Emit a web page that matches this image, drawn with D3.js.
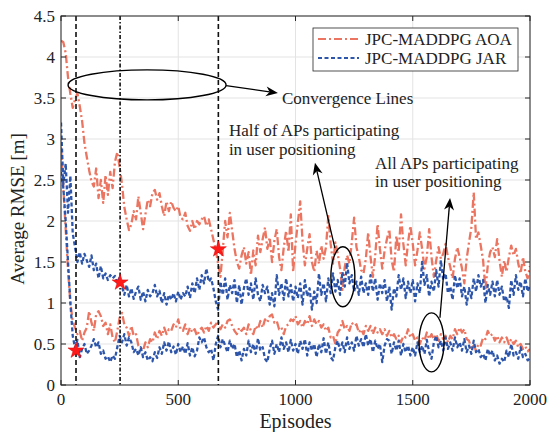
<!DOCTYPE html>
<html><head><meta charset="utf-8">
<script src="https://cdn.jsdelivr.net/npm/d3@7"></script>
<style>body{margin:0;background:#fff}svg{display:block}svg text{font-family:"Liberation Serif","Times New Roman",Times,serif !important;fill:#222}</style>
</head><body><svg id="c" width="549" height="432" font-family="Liberation Serif, Times New Roman, Times, serif"></svg>
<script>
// Episodes sampled every 10 episodes: 0,10,...,2000
const episodeStep = 10;
const xTicks = [0, 500, 1000, 1500, 2000];
const yTicks = [0, 0.5, 1, 1.5, 2, 2.5, 3, 3.5, 4, 4.5];
const seriesNames = ["JPC-MADDPG AOA", "JPC-MADDPG JAR"];
const convergenceEpisodes = [64, 252, 671];
const starValues = [0.42, 1.25, 1.655];

const aoaHalf = [
4.20,4.18,4.05,3.75,3.55,3.38,3.48,3.56,3.40,3.22,
2.95,2.78,2.62,2.48,2.42,2.64,2.28,2.50,2.22,2.56,
2.32,2.60,2.40,2.72,2.84,2.66,2.45,2.17,2.02,1.89,
1.96,2.12,2.02,2.30,2.10,1.90,2.08,2.26,2.18,2.34,
2.38,2.26,2.34,2.18,2.06,2.24,2.12,2.24,2.16,2.12,
2.18,2.04,2.02,2.10,1.94,1.88,2.00,1.90,2.00,1.96,
2.02,2.06,1.94,2.02,1.90,1.77,1.65,1.48,1.32,1.65,
2.00,1.80,2.10,1.88,1.66,1.50,1.42,1.58,1.68,1.48,
1.62,1.34,1.64,1.46,1.82,1.62,1.78,1.92,1.66,1.80,
1.50,1.76,1.90,1.56,1.40,1.68,1.88,1.62,2.08,1.38,
1.72,1.98,2.24,1.76,1.46,1.66,1.84,1.50,1.38,1.64,
1.48,1.70,1.54,1.68,2.06,1.72,1.48,1.74,1.60,1.42,
1.16,1.44,1.58,1.48,1.74,2.04,1.68,1.56,1.40,1.36,
1.54,1.86,1.56,1.32,1.58,1.96,1.66,1.42,1.64,1.78,
1.90,1.52,1.38,1.82,1.62,2.08,1.72,1.46,1.74,1.94,
1.72,1.46,1.64,1.86,1.66,1.42,1.56,1.90,1.56,1.32,
1.52,1.68,1.54,1.60,1.72,1.56,1.44,1.30,1.54,1.68,
1.56,1.42,1.24,1.54,1.74,1.92,2.35,1.78,1.86,1.70,
1.52,1.16,1.46,1.62,1.68,1.56,1.78,1.52,1.32,1.52,
1.38,1.56,1.70,1.58,1.66,1.48,1.36,1.56,1.38,1.30,
1.45];

const aoaFull = [
2.90,2.40,1.90,1.40,1.00,0.78,0.70,0.62,0.66,0.54,
0.64,0.70,0.90,0.76,0.66,0.86,0.90,0.84,0.72,0.76,
0.62,0.74,0.58,0.52,0.66,0.82,0.88,0.74,0.70,0.60,
0.72,0.60,0.62,0.48,0.44,0.42,0.52,0.46,0.56,0.52,
0.64,0.56,0.66,0.60,0.70,0.62,0.68,0.66,0.74,0.70,
0.80,0.68,0.66,0.74,0.62,0.70,0.64,0.68,0.60,0.66,
0.70,0.64,0.72,0.66,0.76,0.70,0.74,0.78,0.68,0.74,
0.70,0.78,0.80,0.72,0.66,0.62,0.70,0.66,0.70,0.62,
0.74,0.66,0.62,0.72,0.68,0.78,0.70,0.80,0.76,0.84,
0.86,0.76,0.78,0.68,0.70,0.62,0.72,0.74,0.80,0.78,
0.84,0.74,0.78,0.70,0.78,0.74,0.84,0.72,0.80,0.74,
0.78,0.70,0.74,0.66,0.70,0.58,0.60,0.50,0.64,0.68,
0.78,0.68,0.72,0.66,0.76,0.72,0.74,0.64,0.68,0.62,
0.72,0.66,0.72,0.62,0.70,0.64,0.68,0.62,0.68,0.60,
0.66,0.58,0.62,0.56,0.60,0.52,0.60,0.58,0.68,0.58,
0.62,0.54,0.58,0.50,0.58,0.54,0.64,0.56,0.62,0.56,
0.62,0.54,0.62,0.56,0.60,0.52,0.60,0.56,0.68,0.62,
0.70,0.64,0.68,0.56,0.54,0.44,0.48,0.42,0.50,0.48,
0.58,0.56,0.66,0.60,0.62,0.54,0.60,0.52,0.58,0.52,
0.58,0.50,0.56,0.50,0.54,0.46,0.50,0.44,0.47,0.41,
0.44];

const jarHalf = [
3.20,2.45,2.70,2.10,2.55,1.85,1.68,1.50,1.62,1.48,
1.60,1.52,1.44,1.58,1.40,1.48,1.30,1.45,1.30,1.36,
1.28,1.34,1.30,1.33,1.25,1.31,1.20,1.10,1.22,1.08,
1.18,1.05,1.14,1.20,1.04,1.14,1.02,1.16,1.08,1.12,
1.22,1.08,1.15,1.00,1.12,0.98,1.10,1.04,1.12,1.02,
1.14,1.04,1.12,1.08,1.20,1.06,1.24,1.12,1.30,1.16,
1.34,1.24,1.42,1.26,1.30,1.18,1.02,0.92,1.26,1.10,
1.30,1.04,1.22,1.12,1.28,1.00,1.22,0.98,1.18,1.30,
1.10,1.24,1.04,1.30,1.10,1.02,1.22,1.12,1.20,0.98,
1.12,0.96,1.34,1.10,1.24,1.04,1.30,1.08,1.22,1.02,
1.20,1.06,1.24,0.98,1.28,1.08,1.18,0.92,1.14,1.00,
1.36,1.10,1.24,1.02,1.30,1.12,1.36,1.14,1.28,1.10,
1.38,1.20,1.49,1.24,1.34,1.14,1.26,1.10,1.32,1.12,
1.24,1.10,1.34,1.14,1.30,1.04,1.24,1.12,1.28,1.02,
1.20,0.92,1.18,1.08,1.34,1.16,1.30,1.06,1.26,1.12,
1.28,1.02,1.24,1.12,1.50,1.22,1.34,1.08,1.26,1.14,
1.40,1.20,1.52,1.28,1.36,1.12,1.20,1.04,1.34,1.18,
1.30,1.08,1.20,0.98,1.18,1.06,1.30,1.14,1.34,1.20,
1.28,1.00,1.22,1.10,1.26,1.08,1.28,1.10,1.20,1.02,
1.08,0.94,1.28,1.10,1.34,1.16,1.26,1.08,1.30,1.14,
1.22];

const jarFull = [
2.60,2.40,2.00,1.50,1.00,0.60,0.45,0.55,0.34,0.44,
0.50,0.38,0.42,0.48,0.56,0.46,0.52,0.38,0.42,0.32,
0.35,0.28,0.36,0.32,0.46,0.60,0.52,0.62,0.48,0.58,
0.52,0.40,0.44,0.36,0.46,0.34,0.40,0.30,0.34,0.29,
0.40,0.33,0.46,0.38,0.52,0.42,0.53,0.40,0.47,0.37,
0.50,0.40,0.47,0.38,0.51,0.36,0.46,0.35,0.42,0.58,
0.52,0.58,0.46,0.40,0.44,0.30,0.50,0.60,0.46,0.56,
0.48,0.40,0.54,0.44,0.50,0.34,0.42,0.30,0.44,0.36,
0.54,0.40,0.50,0.38,0.57,0.42,0.46,0.32,0.28,0.44,
0.54,0.38,0.50,0.40,0.58,0.44,0.52,0.40,0.55,0.42,
0.50,0.38,0.54,0.44,0.56,0.36,0.52,0.42,0.50,0.34,
0.50,0.40,0.57,0.38,0.52,0.34,0.30,0.46,0.54,0.42,
0.52,0.40,0.58,0.44,0.52,0.42,0.60,0.48,0.56,0.46,
0.62,0.48,0.56,0.40,0.54,0.44,0.50,0.28,0.48,0.56,
0.54,0.38,0.52,0.42,0.54,0.36,0.50,0.40,0.48,0.36,
0.46,0.36,0.52,0.40,0.48,0.38,0.55,0.40,0.32,0.52,
0.60,0.46,0.54,0.42,0.58,0.44,0.52,0.42,0.58,0.46,
0.52,0.42,0.56,0.40,0.48,0.38,0.54,0.40,0.44,0.34,
0.38,0.30,0.44,0.36,0.42,0.30,0.36,0.26,0.32,0.28,
0.42,0.34,0.50,0.36,0.40,0.32,0.46,0.34,0.38,0.30,
0.33];

const red = "#eb7560", blue = "#2d56ab";
const redDash = "8,3,2,3", blueDash = "4,2.5";
const svg = d3.select("#c");
const L = 61, R = 530, T = 16, B = 385;
const x = d3.scaleLinear().domain([0, 2000]).range([L, R]);
const y = d3.scaleLinear().domain([0, 4.5]).range([B, T]);

// grid
svg.append("g").selectAll("line").data(xTicks).join("line")
  .attr("x1", d => x(d)).attr("x2", d => x(d)).attr("y1", T).attr("y2", B)
  .attr("stroke", "#e3e3e3").attr("stroke-width", 1);
svg.append("g").selectAll("line").data(yTicks).join("line")
  .attr("y1", d => y(d)).attr("y2", d => y(d)).attr("x1", L).attr("x2", R)
  .attr("stroke", "#e3e3e3").attr("stroke-width", 1);

svg.append("defs").append("clipPath").attr("id", "clip")
  .append("rect").attr("x", L).attr("y", T).attr("width", R - L).attr("height", B - T);

const line = d3.line().x((d, i) => x(i * episodeStep)).y(d => y(d));
const plot = svg.append("g").attr("clip-path", "url(#clip)");
const styles = [
  {data: aoaHalf, color: red, dash: redDash},
  {data: aoaFull, color: red, dash: redDash},
  {data: jarHalf, color: blue, dash: blueDash},
  {data: jarFull, color: blue, dash: blueDash}
];
styles.forEach(s => {
  plot.append("path").attr("d", line(s.data)).attr("fill", "none")
    .attr("stroke", s.color).attr("stroke-width", 2.3).attr("stroke-dasharray", s.dash)
    .attr("stroke-linejoin", "round");
});

// convergence lines
const convDash = ["5,3", "4,2,1.5,2", "5,3"];
convergenceEpisodes.forEach((e, i) => {
  svg.append("line").attr("x1", x(e)).attr("x2", x(e)).attr("y1", T).attr("y2", B)
    .attr("stroke", "#111").attr("stroke-width", 1.6).attr("stroke-dasharray", convDash[i]);
});
// stars
convergenceEpisodes.forEach((e, i) => {
  svg.append("path").attr("d", d3.symbol(d3.symbolStar, 80)())
    .attr("transform", `translate(${x(e)},${y(starValues[i])})`)
    .attr("fill", "#ff1a1a").attr("stroke", "#e00000").attr("stroke-width", 0.5);
});

// axes box & ticks
svg.append("rect").attr("x", L).attr("y", T).attr("width", R - L).attr("height", B - T)
  .attr("fill", "none").attr("stroke", "#262626").attr("stroke-width", 1);
const tk = 5;
xTicks.forEach(d => {
  svg.append("line").attr("x1", x(d)).attr("x2", x(d)).attr("y1", B).attr("y2", B - tk).attr("stroke", "#262626");
  svg.append("line").attr("x1", x(d)).attr("x2", x(d)).attr("y1", T).attr("y2", T + tk).attr("stroke", "#262626");
  svg.append("text").attr("x", x(d)).attr("y", B + 20).attr("text-anchor", "middle")
    .attr("font-size", 17).text(d);
});
yTicks.forEach(d => {
  svg.append("line").attr("y1", y(d)).attr("y2", y(d)).attr("x1", L).attr("x2", L + tk).attr("stroke", "#262626");
  svg.append("line").attr("y1", y(d)).attr("y2", y(d)).attr("x1", R).attr("x2", R - tk).attr("stroke", "#262626");
  svg.append("text").attr("x", L - 6).attr("y", y(d) + 5.5).attr("text-anchor", "end")
    .attr("font-size", 17).text(d);
});
svg.append("text").attr("x", x(1000)).attr("y", 428).attr("text-anchor", "middle")
  .attr("font-size", 20).text("Episodes");
svg.append("text").attr("transform", `translate(24,209) rotate(-90)`)
  .attr("text-anchor", "middle").attr("font-size", 19).text("Average RMSE [m]");

// annotations
function arrow(x1, y1, x2, y2) {
  const a = Math.atan2(y2 - y1, x2 - x1), len = 12, w = 5;
  const bx = x2 - len * Math.cos(a), by = y2 - len * Math.sin(a);
  const nx = -Math.sin(a), ny = Math.cos(a);
  const mx = x2 - 0.7 * len * Math.cos(a), my = y2 - 0.7 * len * Math.sin(a);
  svg.append("line").attr("x1", x1).attr("y1", y1).attr("x2", mx).attr("y2", my)
    .attr("stroke", "#000").attr("stroke-width", 1.3);
  svg.append("path").attr("d", `M${x2},${y2}L${bx + nx * w},${by + ny * w}L${mx},${my}L${bx - nx * w},${by - ny * w}Z`)
    .attr("fill", "#000");
}
svg.append("ellipse").attr("cx", x(367)).attr("cy", y(3.66)).attr("rx", 79).attr("ry", 15)
  .attr("fill", "none").attr("stroke", "#000").attr("stroke-width", 1.4);
arrow(x(704), y(3.65), x(925), y(3.56));
svg.append("text").attr("x", x(942)).attr("y", y(3.43)).attr("font-size", 17).text("Convergence Lines");

svg.append("text").attr("x", x(716)).attr("y", y(3.04)).attr("font-size", 17).text("Half of APs participating");
svg.append("text").attr("x", x(716)).attr("y", y(2.80)).attr("font-size", 17).text("in user positioning");
svg.append("text").attr("x", x(1339)).attr("y", y(2.64)).attr("font-size", 17).text("All APs participating");
svg.append("text").attr("x", x(1339)).attr("y", y(2.41)).attr("font-size", 17).text("in user positioning");

svg.append("ellipse").attr("cx", x(1202)).attr("cy", y(1.32)).attr("rx", 12).attr("ry", 30)
  .attr("fill", "none").attr("stroke", "#000").attr("stroke-width", 1.4);
arrow(x(1168), y(1.67), x(1083), y(2.71));
svg.append("ellipse").attr("cx", x(1580)).attr("cy", y(0.52)).attr("rx", 12.5).attr("ry", 29.5)
  .attr("fill", "none").attr("stroke", "#000").attr("stroke-width", 1.4);
arrow(x(1616), y(0.82), x(1659), y(2.28));

// legend
const lg = svg.append("g");
lg.append("rect").attr("x", 313).attr("y", 28).attr("width", 205).attr("height", 43)
  .attr("fill", "#fff").attr("stroke", "#262626").attr("stroke-width", 0.8);
seriesNames.forEach((n, i) => {
  const yy = 39 + i * 19;
  lg.append("line").attr("x1", 318).attr("x2", 359).attr("y1", yy).attr("y2", yy)
    .attr("stroke", i === 0 ? red : blue).attr("stroke-width", 1.8)
    .attr("stroke-dasharray", i === 0 ? redDash : blueDash);
  lg.append("text").attr("x", 365).attr("y", yy + 5.5).attr("font-size", 17).text(n);
});
</script></body></html>
